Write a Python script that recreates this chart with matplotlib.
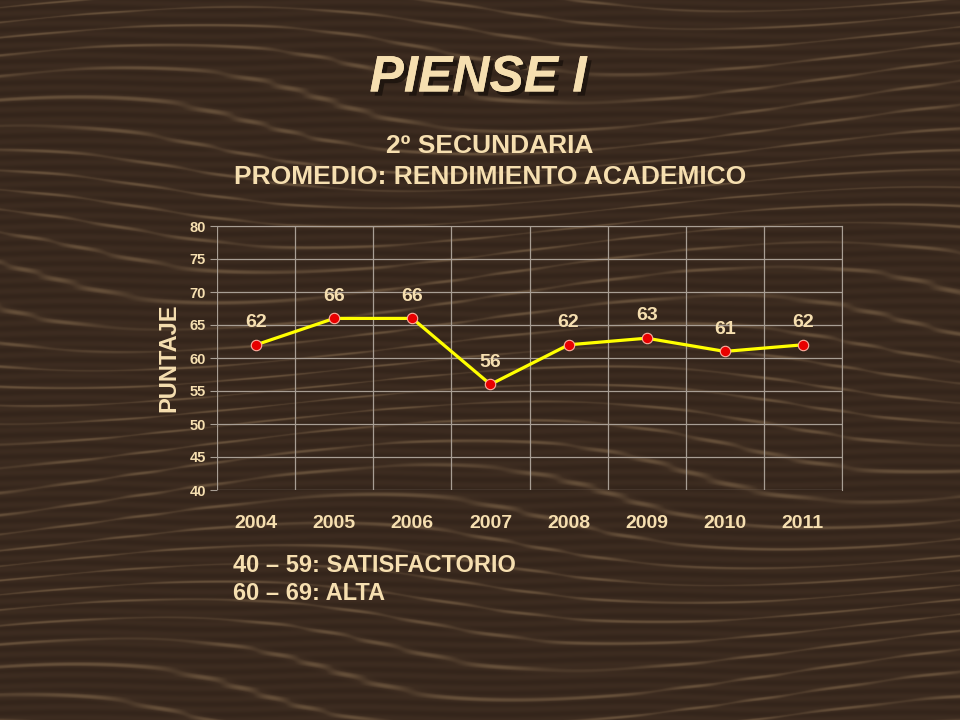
import numpy as np
import matplotlib.pyplot as plt
from matplotlib import patheffects
from matplotlib.colors import LinearSegmentedColormap

plt.rcParams['font.family'] = ['Liberation Sans', 'DejaVu Sans']

years = ['2004', '2005', '2006', '2007', '2008', '2009', '2010', '2011']
puntaje = [62, 66, 66, 56, 62, 63, 61, 62]
y_ticks = [40, 45, 50, 55, 60, 65, 70, 75, 80]

bg = '#3d2c20'
txt = '#f6dfb0'
grid_c = '#a89e94'

fig = plt.figure(figsize=(9.6, 7.2), dpi=100)
fig.patch.set_facecolor(bg)

# wood grain background (decoration only)
bgax = fig.add_axes([0, 0, 1, 1], zorder=-10)
yy, xx = np.mgrid[0:720, 0:960]
phase = yy / 7.0 + 3.5 * np.sin(xx / 160.0 + yy / 90.0) + 1.2 * np.sin(yy / 31.0)
streak = np.abs(np.sin(phase)) ** 25
fine = 0.15 * np.sin(yy / 1.7 + 0.8 * np.sin(xx / 45.0))
wood = LinearSegmentedColormap.from_list('wood', ['#2f2118', '#3e2d21', '#6e573f'])
bgax.imshow(0.35 + 0.5 * streak + fine, cmap=wood, vmin=0, vmax=1.1, aspect='auto')
bgax.set_axis_off()

ax = fig.add_axes([217 / 960, 1 - 490 / 720, 625 / 960, 264 / 720])
ax.set_facecolor('none')
x = np.arange(len(years))
ax.plot(x, puntaje, color='#ffff00', lw=2.3, zorder=3)
ax.plot(x, puntaje, 'o', ms=7.5, mfc='#e80000', mec='#ffb0a0', mew=0.8, zorder=4)
for xi, v in zip(x, puntaje):
    ax.annotate(str(v), (xi, v), xytext=(0, 16), textcoords='offset points',
                ha='center', va='center', color=txt, fontsize=14, fontweight='bold')

ax.set_xlim(-0.5, len(years) - 0.5)
ax.set_ylim(40, 80)
ax.set_yticks(y_ticks)
ax.set_xticks(x)
ax.set_xticklabels(years)
ax.set_xticks(np.arange(-0.5, len(years), 1), minor=True)
ax.grid(True, which='minor', axis='x', color=grid_c, lw=0.9)
ax.grid(True, which='major', axis='y', color=grid_c, lw=0.9)
ax.tick_params(axis='x', which='both', length=0, pad=18, labelsize=14, labelcolor=txt)
ax.tick_params(axis='y', length=5, color=grid_c, labelsize=10.5, labelcolor=txt, pad=3)
for lab in ax.get_xticklabels() + ax.get_yticklabels():
    lab.set_fontweight('bold')
for s in ax.spines.values():
    s.set_visible(False)
ax.spines['right'].set_visible(True)
ax.spines['right'].set_color(grid_c)
ax.spines['top'].set_visible(True)
ax.spines['top'].set_color(grid_c)
ax.set_ylabel('PUNTAJE', color=txt, fontsize=17, fontweight='bold')
ax.yaxis.set_label_coords(-0.058, 0.5)

fig.text(478 / 960, 1 - 78 / 720, 'PIENSE I', ha='center', va='center', color=txt,
         fontsize=37, fontweight='bold', fontstyle='italic',
         path_effects=[patheffects.withSimplePatchShadow(offset=(3, -3), shadow_rgbFace='#1a120c', alpha=0.8),
                       patheffects.Normal()])
fig.text(490 / 960, 1 - 146 / 720, '2º SECUNDARIA', ha='center', va='center',
         color=txt, fontsize=19, fontweight='bold')
fig.text(490 / 960, 1 - 177 / 720, 'PROMEDIO: RENDIMIENTO ACADEMICO', ha='center', va='center',
         color=txt, fontsize=19, fontweight='bold')
fig.text(233 / 960, 1 - 565 / 720, '40 – 59: SATISFACTORIO', ha='left', va='center',
         color=txt, fontsize=17, fontweight='bold')
fig.text(233 / 960, 1 - 594 / 720, '60 – 69: ALTA', ha='left', va='center',
         color=txt, fontsize=17, fontweight='bold')

fig.savefig('out.png', dpi=100, facecolor=fig.get_facecolor())
